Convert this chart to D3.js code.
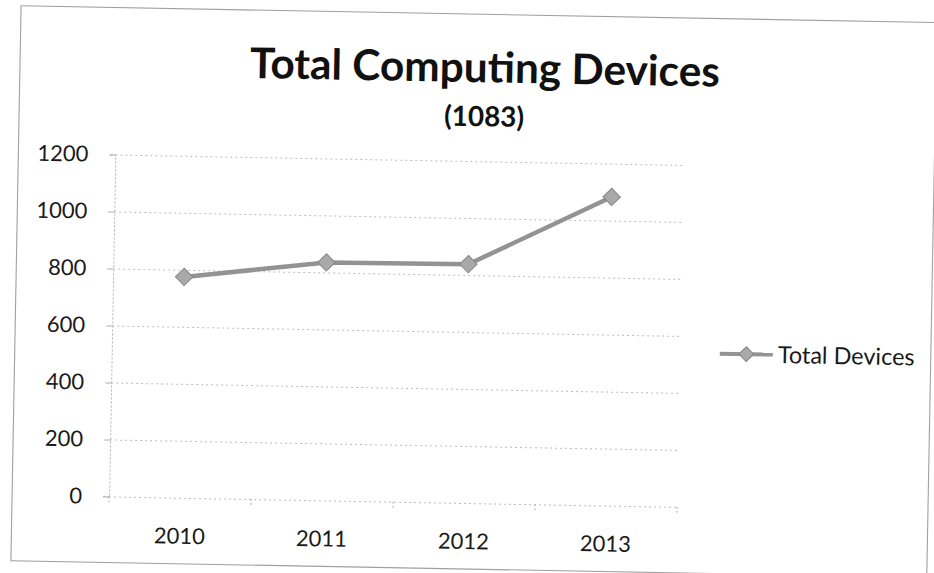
<!DOCTYPE html>
<html>
<head>
<meta charset="utf-8">
<script src="https://cdn.jsdelivr.net/npm/d3@7/dist/d3.min.js"></script>
<style>
  html, body { margin: 0; padding: 0; background: #ffffff; }
  svg { display: block; }
</style>
</head>
<body>
<svg id="chart" width="934" height="573"></svg>
<script>
// ---- data ----
const titleText = "Total Computing Devices";
const subtitleText = "(1083)";
const seriesName = "Total Devices";
const categories = ["2010", "2011", "2012", "2013"];
const values = [775, 835, 838, 1083];
const yTicks = [0, 200, 400, 600, 800, 1000, 1200];

// ---- layout ----
const W = 934, H = 573;
const plot = { left: 113, right: 681, top: 161, bottom: 503 };
const FONT = "Lato, 'Open Sans', sans-serif";

const svg = d3.select("#chart");
svg.append("rect").attr("width", W).attr("height", H).attr("fill", "#ffffff");

// the scanned page is slightly rotated
const g = svg.append("g").attr("transform", "rotate(1.05, 467, 286)");

// chart border
g.append("rect")
  .attr("x", 16).attr("y", 14).attr("width", 916).attr("height", 555)
  .attr("fill", "none").attr("stroke", "#a0a0a0").attr("stroke-width", 1.1);

const x = d3.scaleBand().domain(categories).range([plot.left, plot.right]);
const y = d3.scaleLinear().domain([0, 1200]).range([plot.bottom, plot.top]);

function fit(sel, target) {
  const w = sel.node().getComputedTextLength();
  const fs = parseFloat(sel.attr("font-size"));
  sel.attr("font-size", fs * target / w);
  return fs * target / w;
}

// gridlines
const grid = g.append("g")
  .attr("transform", `translate(${plot.left},0)`)
  .call(d3.axisLeft(y).tickValues(yTicks).tickSize(-(plot.right - plot.left)).tickFormat(""));
grid.select(".domain").remove();
grid.selectAll(".tick line")
  .attr("stroke", "#bdbdbd").attr("stroke-width", 1).attr("stroke-dasharray", "2,3");

// y axis with small ticks and labels
const yAxis = g.append("g")
  .attr("transform", `translate(${plot.left},0)`)
  .call(d3.axisLeft(y).tickValues(yTicks).tickFormat(d3.format("d")).tickSize(6).tickPadding(21));
yAxis.select(".domain")
  .attr("stroke", "#b0b0b0").attr("stroke-dasharray", "2,2");
yAxis.selectAll(".tick line").attr("stroke", "#b0b0b0");
yAxis.selectAll(".tick text")
  .attr("font-family", FONT).attr("font-size", 25).attr("fill", "#1a1a1a");
// size axis font to match reference label width
const probe = g.append("text").attr("font-family", FONT).attr("font-size", 25).text("1200");
const axisFs = fit(probe, 51);
probe.remove();
yAxis.selectAll(".tick text").attr("font-size", axisFs);

// x axis
const xAxis = g.append("g")
  .attr("transform", `translate(0,${plot.bottom})`)
  .call(d3.axisBottom(x).tickSize(0).tickPadding(0));
xAxis.select(".domain").remove();
xAxis.selectAll(".tick text")
  .attr("font-family", FONT).attr("font-size", axisFs).attr("fill", "#1a1a1a")
  .attr("dy", null).attr("y", 46);
// category boundary ticks
const bounds = categories.map(c => x(c)).concat([x.range()[1]]);
g.append("g").selectAll("line").data(bounds).join("line")
  .attr("x1", d => d).attr("x2", d => d)
  .attr("y1", plot.bottom).attr("y2", plot.bottom + 6)
  .attr("stroke", "#b0b0b0").attr("stroke-dasharray", "2,2");

// line series
const cx = c => x(c) + x.bandwidth() / 2;
const line = d3.line().x((d, i) => cx(categories[i])).y(d => y(d));
g.append("path").datum(values)
  .attr("d", line)
  .attr("fill", "none").attr("stroke", "#939393").attr("stroke-width", 4.5)
  .attr("stroke-linejoin", "round");

const diamond = d3.symbol().type(d3.symbolSquare).size(150);
g.append("g").selectAll("path").data(values).join("path")
  .attr("d", diamond)
  .attr("transform", (d, i) => `translate(${cx(categories[i])},${y(d)}) rotate(45)`)
  .attr("fill", "#a9a9a9").attr("stroke", "#858585").attr("stroke-width", 1);

// title
const title = g.append("text")
  .attr("x", 481).attr("y", 82)
  .attr("text-anchor", "middle")
  .attr("font-family", FONT).attr("font-weight", "bold").attr("font-size", 45)
  .attr("fill", "#111").text(titleText);
fit(title, 470);

const sub = g.append("text")
  .attr("x", 481).attr("y", 126)
  .attr("text-anchor", "middle")
  .attr("font-family", FONT).attr("font-weight", "bold").attr("font-size", 30)
  .attr("fill", "#111").text(subtitleText);
fit(sub, 80);

// legend
const lg = g.append("g").attr("transform", "translate(721,349)");
lg.append("line").attr("x1", 0).attr("x2", 53).attr("y1", 0).attr("y2", 0)
  .attr("stroke", "#939393").attr("stroke-width", 4);
lg.append("path").attr("d", d3.symbol().type(d3.symbolSquare).size(110))
  .attr("transform", "translate(26.5,0) rotate(45)")
  .attr("fill", "#a9a9a9").attr("stroke", "#858585");
const lt = lg.append("text").attr("x", 58).attr("y", 0).attr("dy", "0.35em")
  .attr("font-family", FONT).attr("font-size", 25).attr("fill", "#1a1a1a")
  .text(seriesName);
fit(lt, 137);
</script>
</body>
</html>
